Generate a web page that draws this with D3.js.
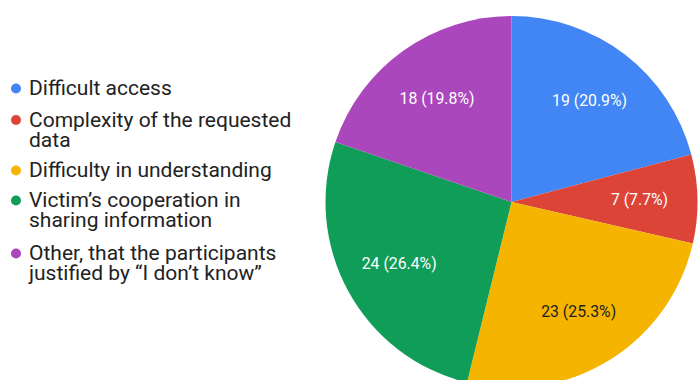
<!DOCTYPE html>
<html><head><meta charset="utf-8">
<script src="https://cdn.jsdelivr.net/npm/d3@7"></script>
<style>body{margin:0;background:#fff;}svg{display:block;}</style>
</head><body>
<svg id="c" width="699" height="380"></svg>
<script>
const categories = ["Difficult access","Complexity of the requested data","Difficulty in understanding","Victim\u2019s cooperation in sharing information","Other, that the participants justified by \u201CI don\u2019t know\u201D"];
const legendLines = [["Difficult access"],["Complexity of the requested","data"],["Difficulty in understanding"],["Victim\u2019s cooperation in","sharing information"],["Other, that the participants","justified by \u201CI don\u2019t know\u201D"]];
const values = [19,7,23,24,18];
const colors = ["#4285f4","#db4437","#f4b400","#0f9d58","#ab47bc"];
const labelColors = ["#ffffff","#ffffff","#212121","#ffffff","#ffffff"];

const svg = d3.select("#c");
const cx = 511.5, cy = 202, R = 186;
const total = d3.sum(values);
const pie = d3.pie().sort(null).value(d=>d)(values);
const arc = d3.arc().innerRadius(0).outerRadius(R);
const labelArc = d3.arc().innerRadius(128).outerRadius(128);
const g = svg.append("g").attr("transform",`translate(${cx},${cy})`);
g.selectAll("path").data(pie).join("path").attr("d",arc).attr("fill",(d,i)=>colors[i]);
g.selectAll("text").data(pie).join("text")
  .attr("transform",d=>`translate(${labelArc.centroid(d)})`)
  .attr("text-anchor","middle").attr("dy","0.36em")
  .attr("font-family","Roboto, sans-serif").attr("font-size",15.8)
  .attr("fill",(d,i)=>labelColors[i])
  .text(d=>`${d.data} (${(d.data/total*100).toFixed(1)}%)`);

// legend
const leg = svg.append("g");
const baseY = [95,126.5,177,207,260];
legendLines.forEach((lines,i)=>{
  leg.append("circle").attr("cx",16).attr("cy",baseY[i]-6.5).attr("r",5).attr("fill",colors[i]);
  const t = leg.append("text").attr("x",29).attr("y",baseY[i])
    .attr("font-family","Roboto, sans-serif").attr("font-size",21).attr("fill","#222");
  lines.forEach((l,j)=>t.append("tspan").attr("x",29).attr("dy", j===0?0:20).text(l));
});
</script>
</body></html>
